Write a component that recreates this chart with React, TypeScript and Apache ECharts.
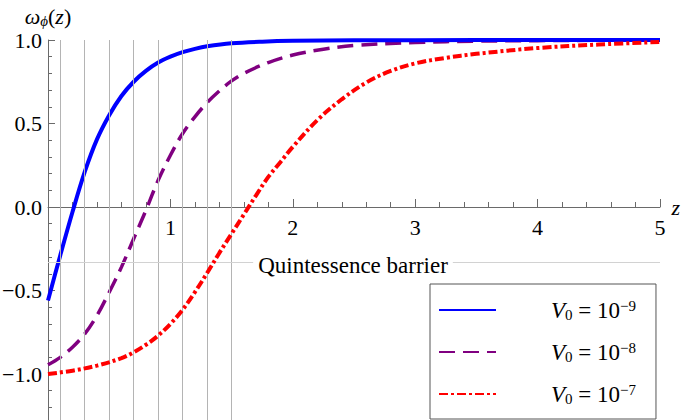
import React, { useEffect, useRef } from "react";
import * as echarts from "echarts";

// V0 = 1e-9 (blue, solid)
const zBlue = [0, 0.1, 0.2, 0.3, 0.4, 0.5, 0.6, 0.7, 0.8, 0.9, 1.0, 1.1, 1.2, 1.3, 1.5, 1.75, 2.0, 2.5, 3.0, 4.0, 5.0];
const wBlue = [-0.56, -0.29, -0.03, 0.21, 0.405, 0.55, 0.665, 0.75, 0.815, 0.865, 0.9, 0.927, 0.947, 0.962, 0.98, 0.99, 0.995, 0.998, 0.999, 1.0, 1.0];

// V0 = 1e-8 (purple, dashed)
const zPurple = [0, 0.1, 0.2, 0.3, 0.4, 0.5, 0.6, 0.7, 0.8, 0.9, 1.0, 1.1, 1.2, 1.3, 1.4, 1.5, 1.6, 1.8, 2.0, 2.25, 2.5, 3.0, 3.5, 4.0, 4.5, 5.0];
const wPurple = [-0.945, -0.9, -0.84, -0.76, -0.65, -0.51, -0.36, -0.19, -0.02, 0.16, 0.31, 0.44, 0.54, 0.625, 0.695, 0.755, 0.8, 0.865, 0.91, 0.945, 0.967, 0.985, 0.993, 0.996, 0.998, 0.999];

// V0 = 1e-7 (red, dot-dashed)
const zRed = [0, 0.2, 0.4, 0.6, 0.7, 0.8, 0.9, 1.0, 1.1, 1.2, 1.3, 1.4, 1.5, 1.6, 1.7, 1.8, 1.9, 2.0, 2.2, 2.4, 2.6, 2.8, 3.0, 3.25, 3.5, 4.0, 4.5, 5.0];
const wRed = [-1.0, -0.98, -0.95, -0.905, -0.87, -0.825, -0.77, -0.7, -0.615, -0.51, -0.395, -0.275, -0.16, -0.045, 0.07, 0.18, 0.27, 0.36, 0.52, 0.645, 0.745, 0.815, 0.86, 0.893, 0.917, 0.952, 0.973, 0.988];

const seriesNames = ["V0 = 10^-9", "V0 = 10^-8", "V0 = 10^-7"];
const exponents = ["−9", "−8", "−7"];
const xTickLabels = [1, 2, 3, 4, 5];
const yTickValues = [-1, -0.5, 0, 0.5, 1];
const gridLinesZ = [0.1, 0.3, 0.5, 0.7, 0.9, 1.1, 1.3, 1.5];
const barrierW = -1 / 3;
const barrierLabel = "Quintessence barrier";

const FONT = "'Liberation Serif', 'Times New Roman', serif";
const FS = 22;
const AXIS_COLOR = "#6a6a6a";

function pairs(xs: number[], ys: number[]) {
  return xs.map((x, i) => [x, ys[i]]);
}

export default function App() {
  const ref = useRef<HTMLDivElement>(null);
  useEffect(() => {
    if (!ref.current) return;
    const chart = echarts.init(ref.current, undefined, { renderer: "svg" });
    const fmtY = (v: number) => {
      if (!yTickValues.some((t) => Math.abs(t - v) < 1e-9)) return "";
      return v.toFixed(1).replace("-", "−");
    };
    const lineSeries = (name: string, data: number[][], color: string, width: number, type: any, z: number) => ({
      type: "line",
      name,
      data,
      smooth: 0.35,
      showSymbol: false,
      symbol: "none",
      clip: false,
      z,
      lineStyle: { color, width, type },
      itemStyle: { color },
    });
    // grid: 48..660 horizontally, y=1 at 40, y=-1.5 at 457.5 (below the visible 420 px window)
    const gridBottomPx = 457.5;
    const zeroPx = 40 + (gridBottomPx - 40) / 2.5; // pixel of w = 0
    const option: any = {
      animation: false,
      backgroundColor: "#fff",
      grid: { left: 48, right: 25, top: 40, bottom: 460 - gridBottomPx, containLabel: false, outerBoundsMode: "none" },
      xAxis: {
        type: "value",
        min: 0,
        max: 5,
        interval: 1,
        position: "bottom",
        offset: -(gridBottomPx - zeroPx),
        name: "z",
        nameLocation: "end",
        nameGap: 8,
        nameTextStyle: { fontFamily: FONT, fontSize: FS, fontStyle: "italic", color: "#000", verticalAlign: "middle" },
        axisLine: { show: true, onZero: false, lineStyle: { color: AXIS_COLOR, width: 1 } },
        axisTick: { show: true, inside: true, length: 8, lineStyle: { color: AXIS_COLOR } },
        minorTick: { show: true, splitNumber: 5, length: 5, lineStyle: { color: AXIS_COLOR } },
        splitLine: { show: false },
        minorSplitLine: { show: false },
        axisLabel: {
          margin: 9,
          fontFamily: FONT,
          fontSize: FS,
          color: "#000",
          formatter: (v: number) => (xTickLabels.includes(v) ? String(v) : ""),
        },
      },
      yAxis: {
        type: "value",
        min: -1.5,
        max: 1,
        interval: 0.5,
        name: "{w|ω}{s|ϕ}{n|(}{w|z}{n|)}",
        nameLocation: "end",
        nameGap: 12,
        nameTextStyle: {
          rich: {
            w: { fontFamily: FONT, fontSize: FS, fontStyle: "italic", color: "#000", lineHeight: 24 },
            n: { fontFamily: FONT, fontSize: FS, color: "#000", lineHeight: 24 },
            s: { fontFamily: FONT, fontSize: 15, fontStyle: "italic", color: "#000", lineHeight: 11, verticalAlign: "bottom" },
          },
        },
        axisLine: { show: true, onZero: false, lineStyle: { color: AXIS_COLOR, width: 1 } },
        axisTick: { show: true, inside: true, length: 7, lineStyle: { color: AXIS_COLOR } },
        minorTick: { show: true, splitNumber: 5, length: 4, lineStyle: { color: AXIS_COLOR } },
        splitLine: { show: false },
        minorSplitLine: { show: false },
        axisLabel: { margin: 6, fontFamily: FONT, fontSize: FS, color: "#000", formatter: fmtY },
      },
      legend: {
        orient: "vertical",
        left: 430,
        top: 284,
        data: seriesNames,
        backgroundColor: "#fff",
        borderColor: "#555",
        borderWidth: 1,
        borderRadius: 0,
        padding: [14, 20, 13, 8],
        itemWidth: 57,
        itemHeight: 24,
        itemGap: 18,
        selectedMode: false,
        itemStyle: { opacity: 0 },
        formatter: (name: string) => {
          const i = seriesNames.indexOf(name);
          return "{g|}{v|V}{s|0}{t| = 10}{p|" + exponents[i] + "}";
        },
        textStyle: {
          rich: {
            g: { width: 50 },
            v: { fontFamily: FONT, fontSize: 23, fontStyle: "italic", color: "#000", lineHeight: 24 },
            t: { fontFamily: FONT, fontSize: 23, color: "#000", lineHeight: 24 },
            s: { fontFamily: FONT, fontSize: 15, color: "#000", lineHeight: 9, verticalAlign: "bottom" },
            p: { fontFamily: FONT, fontSize: 15, color: "#000", lineHeight: 10, verticalAlign: "top" },
          },
        },
      },
      graphic: [
        {
          type: "text",
          x: 353,
          y: 265,
          z: 100,
          style: {
            text: barrierLabel,
            font: "23px " + FONT,
            fill: "#000",
            align: "center",
            verticalAlign: "middle",
            textAlign: "center",
            textVerticalAlign: "middle",
            backgroundColor: "#fff",
            padding: [2, 5],
          },
        },
      ],
      series: [
        {
          type: "line",
          name: "_grid",
          data: [],
          silent: true,
          z: 0,
          markLine: {
            silent: true,
            symbol: "none",
            label: { show: false },
            lineStyle: { color: "#b4b4b4", width: 1, type: "solid" },
            data: [
              ...gridLinesZ.map((z) => ({ xAxis: z })),
              [
                { coord: [0, barrierW], lineStyle: { color: "#d2d2d2", width: 1, type: "solid" } },
                { coord: [5, barrierW] },
              ],
            ],
          },
        },
        lineSeries(seriesNames[0], pairs(zBlue, wBlue), "#0000ff", 4, "solid", 4),
        lineSeries(seriesNames[1], pairs(zPurple, wPurple), "#800080", 3.5, [16, 8], 3),
        lineSeries(seriesNames[2], pairs(zRed, wRed), "#ff0000", 4, [9, 3, 3, 3], 5),
      ],
    };
    chart.setOption(option);
    return () => chart.dispose();
  }, []);
  return (
    <div
      ref={ref}
      style={{ position: "fixed", left: 0, top: 0, width: 685, height: 460, background: "#fff" }}
    />
  );
}
